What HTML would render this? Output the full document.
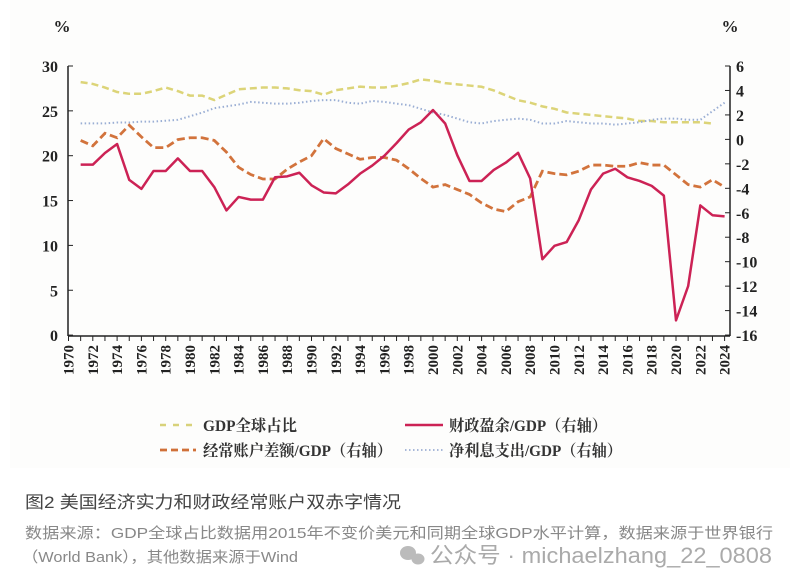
<!DOCTYPE html>
<html><head><meta charset="utf-8"><style>
html,body{margin:0;padding:0;background:#fff;}
svg{display:block;}
</style></head><body>
<svg id="s" width="798" height="588" xmlns="http://www.w3.org/2000/svg" font-family="'Liberation Serif','Noto Serif CJK SC',serif">
<rect width="798" height="588" fill="#fff"/>
<rect x="10" y="0" width="780" height="468" fill="#fdfdfc"/>
<g id="g"></g>
<text x="62" y="32" font-size="17" font-weight="bold" fill="#222" text-anchor="middle">%</text>
<text x="730" y="32" font-size="17" font-weight="bold" fill="#222" text-anchor="middle">%</text>
<!-- legend -->
<line x1="160" y1="425" x2="196" y2="425" stroke="#d8d27a" stroke-width="2.5" stroke-dasharray="6,7"/>
<text x="203" y="431" font-size="16" font-weight="bold" fill="#333" textLength="94" lengthAdjust="spacingAndGlyphs">GDP全球占比</text>
<line x1="405" y1="425" x2="443" y2="425" stroke="#cc2255" stroke-width="2.5"/>
<text x="449" y="431" font-size="16" font-weight="bold" fill="#333" textLength="158" lengthAdjust="spacingAndGlyphs">财政盈余/GDP（右轴）</text>
<line x1="160" y1="450" x2="196" y2="450" stroke="#d07038" stroke-width="2.8" stroke-dasharray="7,4"/>
<text x="203" y="456" font-size="16" font-weight="bold" fill="#333" textLength="189" lengthAdjust="spacingAndGlyphs">经常账户差额/GDP（右轴）</text>
<line x1="405" y1="450" x2="443" y2="450" stroke="#a8b8d8" stroke-width="2" stroke-dasharray="1.5,2.5"/>
<text x="449" y="456" font-size="16" font-weight="bold" fill="#333" textLength="173" lengthAdjust="spacingAndGlyphs">净利息支出/GDP（右轴）</text>
<g font-family="'Liberation Sans','Noto Sans CJK SC',sans-serif">
<text x="25" y="508" font-size="17" fill="#444" textLength="376" lengthAdjust="spacingAndGlyphs">图2 美国经济实力和财政经常账户双赤字情况</text>
<text x="25" y="538" font-size="15" fill="#888" textLength="748" lengthAdjust="spacingAndGlyphs">数据来源：GDP全球占比数据用2015年不变价美元和同期全球GDP水平计算，数据来源于世界银行</text>
<text x="22" y="562" font-size="15" fill="#888" textLength="276" lengthAdjust="spacingAndGlyphs">（World Bank），其他数据来源于Wind</text>
<ellipse cx="408" cy="553" rx="8" ry="7" fill="#bbb"/><ellipse cx="418" cy="559" rx="6.5" ry="5.5" fill="#bbb"/>
<text x="430" y="563" font-size="22" fill="#aaa" textLength="342" lengthAdjust="spacingAndGlyphs">公众号 · michaelzhang_22_0808</text>
</g>
</svg>
<script>
const g=document.getElementById('g');
const X=y=>68.5+(y-1970)*12.15;
const L=v=>66+(30-v)*8.97;
const R=v=>66+(6-v)*12.23;
let h='';
h+='<line x1="68" y1="66" x2="68" y2="336" stroke="#222" stroke-width="1.5"/>';
h+='<line x1="730" y1="66" x2="730" y2="336" stroke="#222" stroke-width="1.5"/>';
h+='<line x1="68" y1="336" x2="730" y2="336" stroke="#222" stroke-width="1.5"/>';
for(let v=0;v<=30;v+=5){h+=`<line x1="68" y1="${L(v)}" x2="73" y2="${L(v)}" stroke="#222"/><text x="58" y="${L(v)+6}" font-size="16" font-weight="bold" fill="#222" text-anchor="end">${v}</text>`;}
for(let v=-16;v<=6;v+=2){h+=`<line x1="725" y1="${R(v)}" x2="730" y2="${R(v)}" stroke="#222"/><text x="736" y="${R(v)+6}" font-size="16" font-weight="bold" fill="#222">${v}</text>`;}
for(let y=1970;y<=2024;y++){h+=`<line x1="${X(y)}" y1="336" x2="${X(y)}" y2="341" stroke="#222"/>`;
 if(y%2==0)h+=`<text transform="translate(${X(y)+5},345) rotate(-90)" font-size="15" font-weight="bold" fill="#222" text-anchor="end">${y}</text>`;}
function line(start,left,right,st){let p=[];let y=start;for(const v of left){p.push(X(y)+','+L(v));y++;}for(const v of right){p.push(X(y)+','+R(v));y++;}
 h+=`<polyline points="${p.join(' ')}" fill="none" ${st}/>`;}
line(1971,[28.2,28,27.6,27.1,26.9,26.9,27.2,27.6,27.2,26.7,26.7,26.2,26.8,27.4,27.5,27.6,27.6,27.5,27.3,27.2,26.8,27.3,27.5,27.7,27.6,27.6,27.8],
[4.6,4.9,4.8,4.6,4.5,4.4,4.3,4.0,3.6,3.2,3.0,2.7,2.5,2.2,2.1,2.0,1.9,1.8,1.7,1.5,1.5,1.4,1.4,1.4,1.4,1.3],'stroke="#dcd478" stroke-width="2.5" stroke-dasharray="7,4"');
line(1971,[23.6,23.6,23.6,23.7,23.7,23.8,23.8,23.9,24,24.4,24.8,25.3,25.5,25.7,26,25.9,25.8,25.8,25.9,26.1,26.2,26.2,25.9,25.8,26.1,26,25.8],
[2.8,2.5,2.2,2,1.7,1.4,1.3,1.5,1.6,1.7,1.6,1.3,1.3,1.5,1.4,1.3,1.3,1.2,1.3,1.4,1.6,1.7,1.7,1.6,1.6,2.3,3],'stroke="#9aaed4" stroke-width="2" stroke-dasharray="1.5,2.5"');
line(1971,[21.7,21.1,22.5,22,23.4,22.1,20.9,20.9,21.8,22,22,21.7,20.4,18.7,17.9,17.4,17.4,18.5,19.3,20,21.9,20.8,20.2,19.6,19.8,19.8,19.5],
[-2.4,-3.2,-3.9,-3.7,-4.1,-4.5,-5.2,-5.7,-5.9,-5.1,-4.7,-2.6,-2.8,-2.9,-2.6,-2.1,-2.1,-2.2,-2.2,-1.9,-2.1,-2.1,-2.9,-3.7,-3.9,-3.3,-3.9],'stroke="#d2733c" stroke-width="2.8" stroke-dasharray="8,4"');
line(1971,[19,19,20.3,21.3,17.3,16.3,18.3,18.3,19.7,18.3,18.3,16.5,13.9,15.4,15.1,15.1,17.6,17.7,18.1,16.7,15.9,15.8,16.8,18,18.9,20,21.4],
[0.8,1.4,2.4,1.3,-1.3,-3.4,-3.4,-2.5,-1.9,-1.1,-3.2,-9.8,-8.7,-8.4,-6.6,-4.1,-2.8,-2.4,-3.1,-3.4,-3.8,-4.6,-14.8,-12,-5.4,-6.2,-6.3],'stroke="#cc2255" stroke-width="2.5" stroke-linejoin="round"');
g.innerHTML=h;
</script>
</body></html>
